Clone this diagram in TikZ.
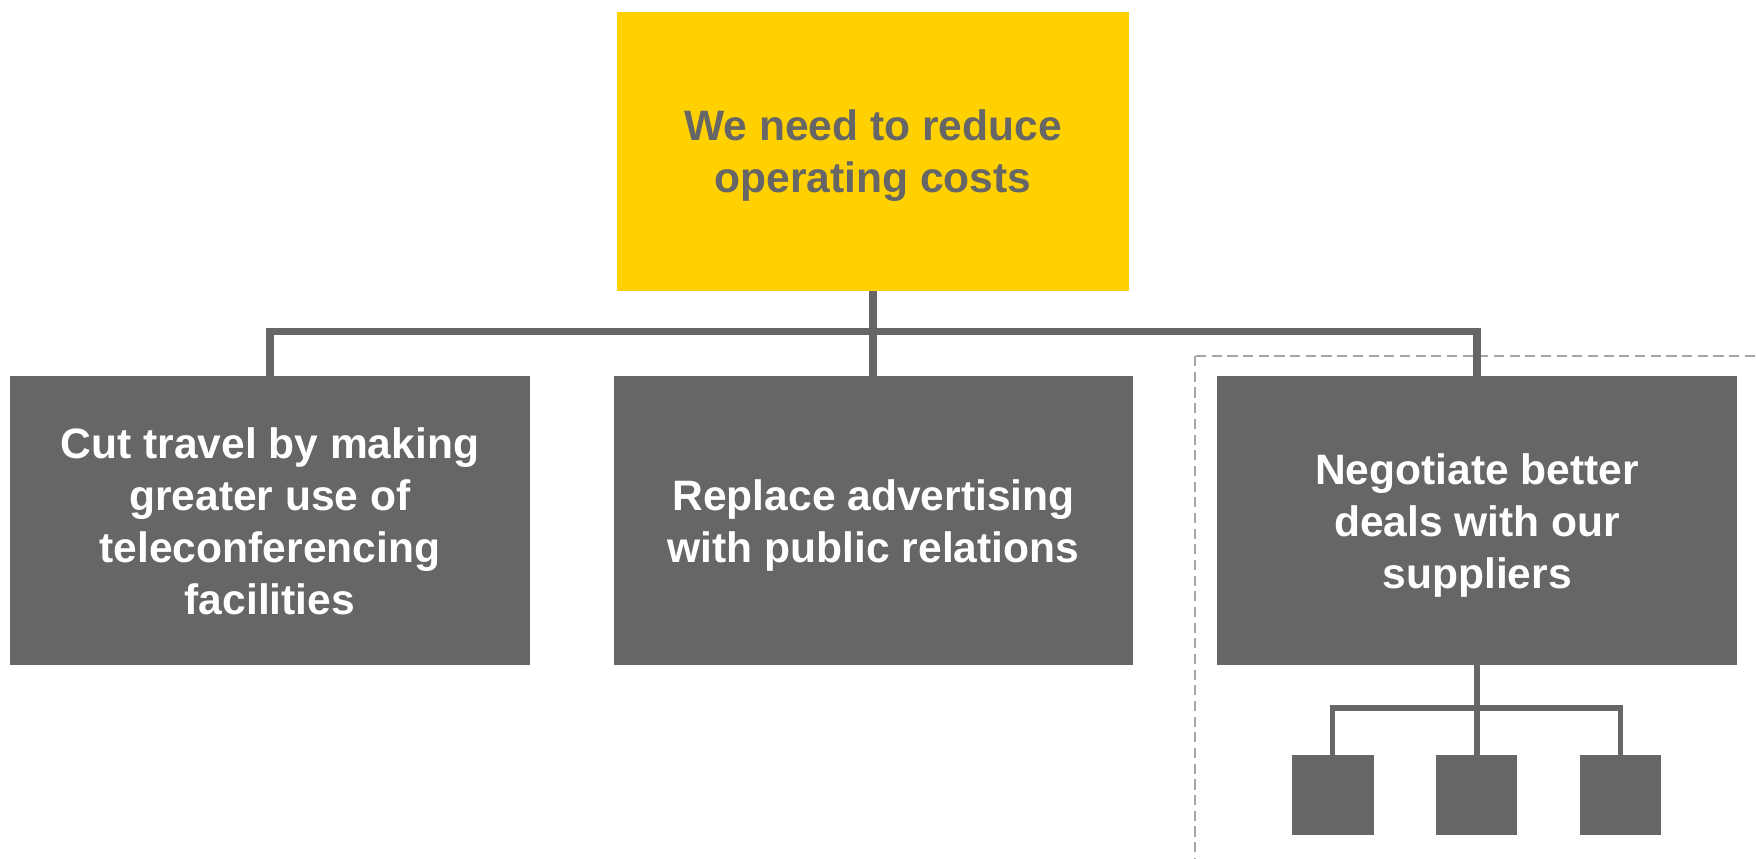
\documentclass[tikz,border=0pt]{standalone}
\usepackage{fontspec}
\setmainfont{Liberation Sans}
\usetikzlibrary{positioning}

\definecolor{slate}{HTML}{666666}
\definecolor{sun}{HTML}{FFD100}
\definecolor{dashgray}{HTML}{A6A6A6}

\begin{document}
\begin{tikzpicture}[
  x=1pt, y=-1pt,
  box/.style={rectangle, inner sep=0pt, align=center, text depth=0pt,
    font=\fontsize{38}{46.5}\selectfont\bfseries},
  goal/.style={box, fill=sun, text=slate,
    minimum width=457pt, minimum height=249pt},
  option/.style={box, fill=slate, text=white,
    minimum width=464pt, minimum height=258pt},
  leaf/.style={rectangle, inner sep=0pt, fill=slate,
    minimum width=73pt, minimum height=72pt},
  link/.style={draw=slate, line width=7pt},
  sublink/.style={draw=slate, line width=5pt},
  frame/.style={draw=dashgray, line width=1.5pt, dash pattern=on 9pt off 5pt}
]
\useasboundingbox (0,0) rectangle (1568,767);
\clip (0,0) rectangle (1568,767);

% the dashed area round the third branch
\draw[frame] (1067,318) rectangle (1620,820);

\node[goal] (goal) at (779.5,135) {We need to reduce\\operating costs};

\node[option] (travel) at (241,465) {Cut travel by making\\greater use of\\teleconferencing\\facilities};
\node[option] (adverts) at (780,465) {Replace advertising\\with public relations};
\node[option] (deals) at (1319,465) {Negotiate better\\deals with our\\suppliers};

\node[leaf] (leaf1) at (1190,710) {};
\node[leaf] (leaf2) at (1318.5,710) {};
\node[leaf] (leaf3) at (1447,710) {};

% tree lines
\coordinate (hub) at (779.5,296);
\draw[link] (goal.south) -- (hub);
\draw[link] (travel.north) |- (hub) -| (deals.north);
\draw[link] (hub) -- (adverts.north -| hub);

\coordinate (subhub) at (1319,632);
\draw[sublink] (deals.south) -- (subhub);
\draw[sublink] (leaf1.north) |- (subhub) -| (leaf3.north);
\draw[sublink] (subhub) -- (leaf2.north -| subhub);
\end{tikzpicture}
\end{document}
